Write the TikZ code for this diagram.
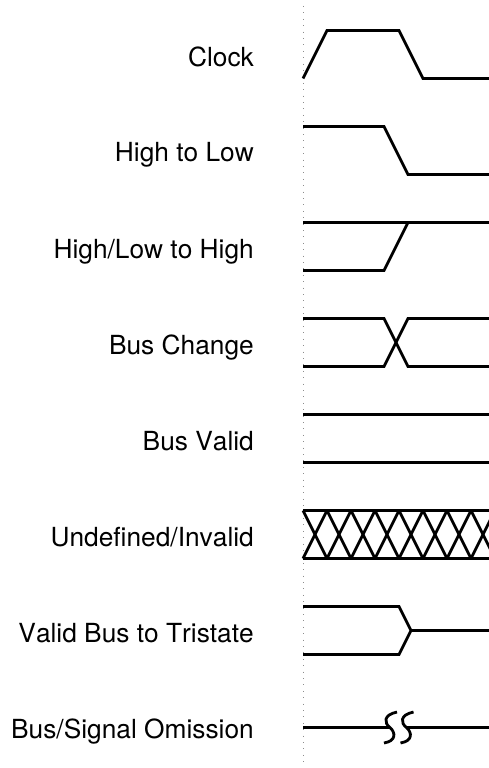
\documentclass[tikz,border=0pt]{standalone}
\usepackage{fontspec}
\setmainfont[Kerning=Off]{TeX Gyre Heros}
\tikzset{
  wave/.style={line width=2.8pt,black,line join=miter},
  thinwave/.style={line width=2.6pt,black},
  lbl/.style={anchor=base east,inner sep=0pt,font=\fontsize{26.3pt}{30pt}\selectfont,text=black},
  guide/.style={line width=1pt,gray!90,dash pattern=on 1pt off 5.4pt}
}
\begin{document}
\begin{tikzpicture}[x=1pt,y=-1pt]
\path[use as bounding box] (0,0) rectangle (489,768);
\clip (0,0) rectangle (489,768);
\draw[guide] (303,6) -- (303,764);
\node[lbl] (l1) at (254,66.5) {Clock};
\node[lbl] (l2) at (254,161) {High to Low};
\node[lbl] (l3) at (254,258.5) {High/Low to High};
\node[lbl] (l4) at (254,354) {Bus Change};
\node[lbl] (l5) at (254,450) {Bus Valid};
\node[lbl] (l6) at (254,546.5) {Undefined/Invalid};
\node[lbl] (l7) at (254,642) {Valid Bus to Tristate};
\node[lbl] (l8) at (254,738.5) {Bus/Signal Omission};
% Clock
\draw[wave] (303,78.5) -- (327,30.5) -- (399,30.5) -- (423,78.5) -- (489,78.5);
% High to Low
\draw[wave] (303,126.5) -- (384,126.5) -- (408,174.5) -- (489,174.5);
% High/Low to High
\draw[wave] (303,222.5) -- (489,222.5);
\draw[wave] (303,270.5) -- (384,270.5) -- (408,222.5);
% Bus Change
\draw[wave] (303,318.5) -- (384,318.5) -- (408,366.5) -- (489,366.5);
\draw[wave] (303,366.5) -- (384,366.5) -- (408,318.5) -- (489,318.5);
% Bus Valid
\draw[wave] (303,414.5) -- (489,414.5);
\draw[wave] (303,462.5) -- (489,462.5);
% Undefined
\draw[wave] (303,510.5) -- (489,510.5);
\draw[wave] (303,558.5) -- (489,558.5);
\foreach \k in {0,...,7}{
  \draw[wave] ({303+24*\k},510.5) -- ({327+24*\k},558.5);
  \draw[wave] ({303+24*\k},558.5) -- ({327+24*\k},510.5);
}
% Tristate
\draw[wave] (303,606.5) -- (399,606.5) -- (411,630.5) -- (399,654.5) -- (303,654.5);
\draw[thinwave] (411,630.5) -- (489,630.5);
% Omission
\draw[wave] (303,727.5) -- (389,727.5);
\draw[wave] (407,727.5) -- (489,727.5);
\draw[wave] (397,712) .. controls (383,715) and (384,723) .. (390,727.5) .. controls (396,733) and (396,741) .. (384,743);
\draw[wave] (413.5,712) .. controls (399.5,715) and (400.5,723) .. (406.5,727.5) .. controls (412.5,733) and (412.5,741) .. (400.5,743);
\end{tikzpicture}
\end{document}
